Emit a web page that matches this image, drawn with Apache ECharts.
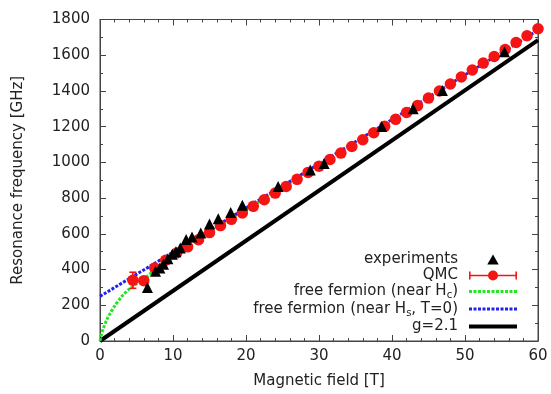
<!DOCTYPE html>
<html>
<head>
<meta charset="utf-8">
<script src="https://cdn.jsdelivr.net/npm/echarts@6/dist/echarts.min.js"></script>
<style>
html, body { margin: 0; padding: 0; background: #fff; }
#main { width: 551px; height: 394px; }
</style>
</head>
<body>
<div id="main"></div>
<script>
// 实验数据 (triangles)
var expField = [6.5, 7.6, 8.2, 8.7, 9.3, 9.9, 10.4, 11.0, 11.8, 12.6, 13.8, 15.0, 16.2, 17.9, 19.5, 24.4, 28.8, 30.7, 38.6, 42.9, 46.9, 55.4];
var expFreq = [300, 390, 409, 430, 460, 485, 500, 521, 568, 582, 605, 655, 685, 720, 760, 865, 958, 994, 1201, 1301, 1403, 1620];
// QMC
var qmcField = [4.5, 6, 7.5, 9, 10.5, 12, 13.5, 15, 16.5, 18, 19.5, 21, 22.5, 24, 25.5, 27, 28.5, 30, 31.5, 33, 34.5, 36, 37.5, 39, 40.5, 42, 43.5, 45, 46.5, 48, 49.5, 51, 52.5, 54, 55.5, 57, 58.5, 60];
var qmcFreq = [340, 338, 409, 452, 493, 527, 567, 607, 646, 681, 717, 754, 791, 828, 865, 905, 944, 979, 1016, 1052, 1089, 1127, 1166, 1202, 1241, 1279, 1318, 1360, 1400, 1439, 1478, 1517, 1556, 1593, 1632, 1671, 1709, 1748];
var qmcErr = [45, 8, 6, 5, 5, 5, 5, 5, 5, 5, 5, 5, 5, 5, 5, 5, 5, 5, 5, 5, 5, 5, 5, 5, 5, 5, 5, 5, 5, 5, 5, 5, 5, 5, 5, 5, 5, 5];
// free fermion near Hc
var hcField = [0, 0.25, 0.5, 1, 1.5, 2, 3, 4, 5, 6, 7.5, 9, 11, 13, 15, 18, 21, 24, 27];
var hcFreq = [0, 45, 75, 125, 162, 195, 250, 290, 320, 347, 398, 450, 512, 565, 612, 690, 760, 835, 910];
// free fermion near Hs, T=0
var hsField = [0, 10, 20, 30, 40, 50, 60];
var hsFreq = [250, 497, 745, 992, 1240, 1490, 1740];
// g=2.1
var gField = [0, 60];
var gFreq = [0, 1685];

var xTicks = [0, 10, 20, 30, 40, 50, 60];
var yTicks = [0, 200, 400, 600, 800, 1000, 1200, 1400, 1600, 1800];

function pairs(xs, ys) {
    return xs.map(function (v, i) { return [v, ys[i]]; });
}

var RED = '#f41414';
var GREEN = '#22e622';
var BLUE = '#2020f0';
var font = 'DejaVu Sans';
var axisColor = '#444';

// 图例里的点线图标
function dotsPath() {
    var s = '';
    for (var x = 0; x + 3 <= 48.5; x += 4.5) {
        s += 'M' + x + ',0h3v3h-3z ';
    }
    return 'path://' + s;
}

var myChart = echarts.init(document.getElementById('main'));

function axisBase(show) {
    return {
        axisLine: { show: true, onZero: false, lineStyle: { color: axisColor, width: 1 } },
        axisTick: { show: true, inside: true, length: 6, lineStyle: { color: axisColor } },
        minorTick: { show: true, length: 3, lineStyle: { color: axisColor } },
        splitLine: { show: false },
        axisLabel: { show: show, color: '#222', fontSize: 15, fontFamily: font, formatter: function (v) { return String(v); } }
    };
}

var xMain = Object.assign(axisBase(true), {
    type: 'value', min: xTicks[0], max: xTicks[xTicks.length - 1], interval: 10,
    position: 'bottom',
    name: 'Magnetic field [T]', nameLocation: 'middle', nameGap: 33,
    nameTextStyle: { fontSize: 15, color: '#222', fontFamily: font }
});
xMain.minorTick.splitNumber = 5;
xMain.axisLabel.margin = 8;
var xTop = Object.assign(axisBase(false), {
    type: 'value', min: 0, max: 60, interval: 10, position: 'top', show: true
});
xTop.minorTick.splitNumber = 5;

var yMain = Object.assign(axisBase(true), {
    type: 'value', min: yTicks[0], max: yTicks[yTicks.length - 1], interval: 200,
    position: 'left',
    name: 'Resonance frequency [GHz]', nameLocation: 'middle', nameGap: 74, nameRotate: 90,
    nameTextStyle: { fontSize: 15, color: '#222', fontFamily: font }
});
yMain.minorTick.splitNumber = 2;
yMain.axisLabel.margin = 10;
var yRight = Object.assign(axisBase(false), {
    type: 'value', min: 0, max: 1800, interval: 200, position: 'right', show: true
});
yRight.minorTick.splitNumber = 2;

var legendNames = {
    'experiments': '{n|experiments}',
    'QMC': '{n|QMC}',
    'free fermion (near Hc)': '{n|free fermion (near H}{s|c}{n|)}',
    'free fermion (near Hs, T=0)': '{n|free fermion (near H}{s|s}{n|, T=0)}',
    'g=2.1': '{n|g=2.1}'
};

var option = {
    animation: false,
    backgroundColor: '#fff',
    grid: { left: 100, right: 13, top: 19.5, bottom: 52.5, show: true, borderColor: axisColor, borderWidth: 1, backgroundColor: 'transparent' },
    xAxis: [xMain, xTop],
    yAxis: [yMain, yRight],
    legend: {
        orient: 'vertical',
        align: 'right',
        right: 29,
        top: 247,
        itemWidth: 48,
        itemHeight: 10,
        itemGap: 1,
        symbolKeepAspect: true,
        data: [
            { name: 'experiments', icon: 'path://M4,0L8,7H0z' },
            { name: 'QMC', icon: 'path://M0,4.2h48v1.6h-48z M0,1h1.6v8h-1.6z M46.4,1h1.6v8h-1.6z M19,5a5,5 0 1 1 10,0a5,5 0 1 1 -10,0z' },
            { name: 'free fermion (near Hc)', icon: dotsPath() },
            { name: 'free fermion (near Hs, T=0)', icon: dotsPath() },
            { name: 'g=2.1', icon: 'path://M0,0h48v4h-48z' }
        ],
        formatter: function (name) { return legendNames[name]; },
        textStyle: {
            padding: [0, 6, 0, 0],
            rich: {
                n: { fontSize: 15, color: '#222', fontFamily: font, lineHeight: 17 },
                s: { fontSize: 10, color: '#222', fontFamily: font, padding: [8, 0, 0, 0] }
            }
        }
    },
    series: [
        {
            name: 'g=2.1', type: 'line', data: pairs(gField, gFreq),
            symbol: 'none', lineStyle: { color: '#000', width: 4 }, itemStyle: { color: '#000' }, z: 1
        },
        {
            name: 'free fermion (near Hc)', type: 'line', data: pairs(hcField, hcFreq),
            symbol: 'none', smooth: 0.3,
            lineStyle: { color: GREEN, width: 3, type: [3, 1.5] }, itemStyle: { color: GREEN }, z: 2
        },
        {
            name: 'free fermion (near Hs, T=0)', type: 'line', data: pairs(hsField, hsFreq),
            symbol: 'none',
            lineStyle: { color: BLUE, width: 3, type: [3, 1.5] }, itemStyle: { color: BLUE }, z: 3
        },
        {
            name: 'QMC err', type: 'custom',
            data: qmcField.map(function (b, i) { return [b, qmcFreq[i] - qmcErr[i], qmcFreq[i] + qmcErr[i]]; }),
            renderItem: function (params, api) {
                var top = api.coord([api.value(0), api.value(2)]);
                var bot = api.coord([api.value(0), api.value(1)]);
                var w = 3.5;
                var st = { stroke: RED, lineWidth: 1.6 };
                return {
                    type: 'group',
                    children: [
                        { type: 'line', shape: { x1: top[0], y1: top[1], x2: bot[0], y2: bot[1] }, style: st },
                        { type: 'line', shape: { x1: top[0] - w, y1: top[1], x2: top[0] + w, y2: top[1] }, style: st },
                        { type: 'line', shape: { x1: bot[0] - w, y1: bot[1], x2: bot[0] + w, y2: bot[1] }, style: st }
                    ]
                };
            },
            z: 4
        },
        {
            name: 'QMC', type: 'scatter', data: pairs(qmcField, qmcFreq),
            symbol: 'circle', symbolSize: 11.5, itemStyle: { color: RED, opacity: 1 }, z: 5
        },
        {
            name: 'experiments', type: 'scatter', data: pairs(expField, expFreq),
            symbol: 'triangle', symbolSize: 11, itemStyle: { color: '#000', opacity: 1 }, z: 6
        },
        // 空系列, 让上方和右侧的坐标轴显示刻度
        {
            name: 'mirror', type: 'line', xAxisIndex: 1, yAxisIndex: 1, data: [], symbol: 'none', silent: true
        }
    ]
};
myChart.setOption(option);
</script>
</body>
</html>
